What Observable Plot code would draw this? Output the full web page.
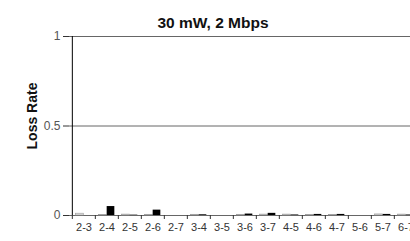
<!DOCTYPE html>
<html>
<head>
<meta charset="utf-8">
<script src="https://cdn.jsdelivr.net/npm/d3@7"></script>
<script src="https://cdn.jsdelivr.net/npm/@observablehq/plot@0.6"></script>
<style>
  html, body { margin: 0; padding: 0; background: white; overflow: hidden; }
</style>
</head>
<body>
<div id="chart"></div>
<script>
const title = "30 mW, 2 Mbps";
const yLabel = "Loss Rate";
const categories = ["2-3","2-4","2-5","2-6","2-7","3-4","3-5","3-6","3-7","4-5","4-6","4-7","5-6","5-7","6-7"];
const seriesLight = [0.010, 0.003, 0.005, 0.004, 0.000, 0.004, 0.000, 0.004, 0.005, 0.005, 0.002, 0.002, 0.000, 0.006, 0.005];
const seriesDark  = [0.000, 0.050, 0.002, 0.030, 0.000, 0.004, 0.000, 0.008, 0.012, 0.003, 0.006, 0.006, 0.000, 0.006, 0.003];
const yTicks = [0, 0.5, 1];

const left = 69, right = 419;
const bw = (right - left) / categories.length;
const barW = 8;
const groupPad = (bw - 2 * barW) / 2;

const lightData = categories.map((c, i) => ({cat: c, v: seriesLight[i]}));
const darkData = categories.map((c, i) => ({cat: c, v: seriesDark[i]}));

const chart = Plot.plot({
  width: 410,
  height: 241,
  marginLeft: left,
  marginRight: 0,
  marginTop: 36,
  marginBottom: 26,
  style: {fontFamily: "Liberation Sans, Arial, sans-serif", overflow: "visible", maxWidth: "none", background: "white"},
  x: {domain: categories, range: [left, right], padding: 0, axis: null},
  y: {domain: [0, 1], axis: null},
  marks: [
    Plot.ruleY(yTicks, {stroke: "#666", strokeWidth: 1}),
    Plot.barY(lightData, {x: "cat", y: "v", fill: "#e6e6e6", stroke: "#999", strokeWidth: 0.6,
      insetLeft: groupPad, insetRight: groupPad + barW}),
    Plot.barY(darkData, {x: "cat", y: "v", fill: "black",
      insetLeft: groupPad + barW, insetRight: groupPad}),
    Plot.ruleX([categories[0]], {dx: -bw / 2, y1: 0, y2: 1, stroke: "black", strokeWidth: 1}),
    Plot.axisY(yTicks, {tickSize: 6, tickPadding: 3, fontSize: 12, fill: "#555", stroke: "#333",
      tickFormat: d => String(d), label: null}),
    Plot.axisX(categories, {tickSize: 4, dx: -bw / 2, tickFormat: () => "", stroke: "#333", label: null}),
    Plot.axisX(categories, {tickSize: 0, tickPadding: 8, fontSize: 11, fill: "#333", label: null}),
    Plot.text([title], {frameAnchor: "top", dx: -27, dy: -20, fontSize: 15.5, fontWeight: "bold", fill: "#111"}),
    Plot.text([yLabel], {frameAnchor: "left", textAnchor: "middle", dx: -37, dy: -10, rotate: -90, fontSize: 14, fontWeight: "bold", fill: "#111"})
  ]
});
document.getElementById("chart").append(chart);
</script>
</body>
</html>
